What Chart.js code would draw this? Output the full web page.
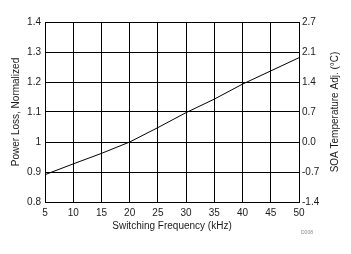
<!DOCTYPE html>
<html>
<head>
<meta charset="utf-8">
<script src="https://cdn.jsdelivr.net/npm/chart.js@4/dist/chart.umd.min.js"></script>
<style>
html,body{margin:0;padding:0;background:#fff;}
#wrap{width:351px;height:254px;position:relative;}
</style>
</head>
<body>
<div id="wrap"><canvas id="c" width="351" height="254"></canvas></div>
<script>
const frequencies = [5, 10, 15, 20, 25, 30, 35, 40, 45, 50];
const powerLoss = [0.891, 0.927, 0.962, 1.0, 1.048, 1.098, 1.143, 1.193, 1.237, 1.281];
const soaTickLabels = ['-1.4', '-0.7', '0.0', '0.7', '1.4', '2.1', '2.7'];
const xTitle = 'Switching Frequency (kHz)';
const yTitle = 'Power Loss, Normalized';
const y2Title = 'SOA Temperature Adj. (°C)';
const noteText = 'D008';

const FONT = '"Liberation Sans", Arial, sans-serif';
const TXT = '#1a1a1a';

const notePlugin = {
  id: 'note',
  afterDraw(chart) {
    const ctx = chart.ctx;
    const a = chart.chartArea;
    ctx.save();
    ctx.font = '5px ' + FONT;
    ctx.fillStyle = '#8a8a8a';
    ctx.textAlign = 'left';
    ctx.textBaseline = 'middle';
    ctx.fillText(noteText, 301, 233);
    ctx.restore();
    // right axis title, reading bottom-to-top
    ctx.save();
    ctx.font = '10px ' + FONT;
    ctx.fillStyle = TXT;
    ctx.textAlign = 'center';
    ctx.textBaseline = 'middle';
    ctx.translate(335, (a.top + a.bottom) / 2);
    ctx.rotate(-Math.PI / 2);
    ctx.fillText(y2Title, 0, 0);
    ctx.restore();
  }
};

new Chart(document.getElementById('c'), {
  type: 'line',
  data: {
    datasets: [{
      data: frequencies.map((f, i) => ({x: f, y: powerLoss[i]})),
      borderColor: '#000',
      borderWidth: 1,
      pointRadius: 0,
      tension: 0,
      fill: false
    }]
  },
  options: {
    responsive: false,
    animation: false,
    events: [],
    layout: {padding: {top: 22, left: 0, right: 0, bottom: 0}},
    plugins: {legend: {display: false}, tooltip: {enabled: false}},
    scales: {
      x: {
        type: 'linear',
        min: 5, max: 50,
        afterFit(s) { s.height = 52; },
        ticks: {stepSize: 5, padding: 5, color: TXT, font: {family: FONT, size: 10}, maxRotation: 0},
        grid: {color: '#000', lineWidth: 1, drawTicks: false},
        border: {color: '#000', width: 1},
        title: {display: true, text: xTitle, color: TXT, font: {family: FONT, size: 10}, padding: {top: 0, bottom: 22}}
      },
      y: {
        position: 'left',
        min: 0.8, max: 1.4,
        afterFit(s) { s.width = 45; },
        ticks: {stepSize: 0.1, padding: 4, color: TXT, font: {family: FONT, size: 10},
          callback: v => (Math.round(v * 10) / 10).toString()},
        grid: {color: '#000', lineWidth: 1, drawTicks: false},
        border: {color: '#000', width: 1},
        title: {display: true, text: yTitle, color: TXT, font: {family: FONT, size: 10}, padding: {top: 10, bottom: 0}}
      },
      y2: {
        position: 'right',
        min: 0.8, max: 1.4,
        afterFit(s) { s.width = 52; },
        ticks: {stepSize: 0.1, padding: 3, color: TXT, font: {family: FONT, size: 10},
          callback: (v, i) => soaTickLabels[i]},
        grid: {display: false, drawTicks: false},
        border: {color: '#000', width: 1},
        title: {display: false}
      }
    }
  },
  plugins: [notePlugin]
});
</script>
</body>
</html>
